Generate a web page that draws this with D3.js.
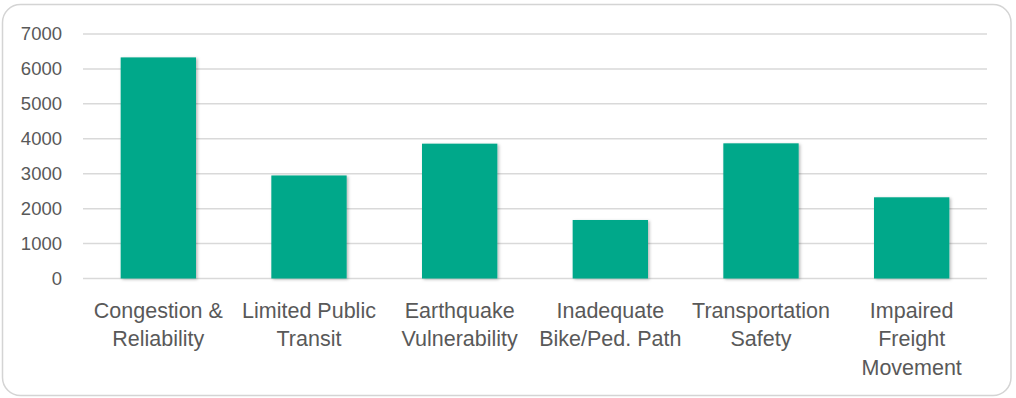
<!DOCTYPE html>
<html>
<head>
<meta charset="utf-8">
<script src="https://cdn.jsdelivr.net/npm/d3@7"></script>
<style>
  html, body { margin: 0; padding: 0; background: #ffffff; }
  svg { display: block; }
</style>
</head>
<body>
<svg id="chart" width="1016" height="398"></svg>
<script>
// Problem categories (each entry is the wrapped label lines)
const categories = [
  ["Congestion &", "Reliability"],
  ["Limited Public", "Transit"],
  ["Earthquake", "Vulnerability"],
  ["Inadequate", "Bike/Ped. Path"],
  ["Transportation", "Safety"],
  ["Impaired", "Freight", "Movement"]
];
const values = [6330, 2950, 3860, 1675, 3870, 2325];
const yTicks = [0, 1000, 2000, 3000, 4000, 5000, 6000, 7000];

const W = 1016, H = 398;
const plot = { left: 83, right: 987, top: 34, bottom: 278.5 };

const svg = d3.select("#chart");
const defs = svg.append("defs");

const barShadow = defs.append("filter").attr("id", "barShadow")
  .attr("x", "-20%").attr("y", "-10%").attr("width", "140%").attr("height", "120%");
barShadow.append("feDropShadow")
  .attr("dx", 1.5).attr("dy", 1).attr("stdDeviation", 1.6)
  .attr("flood-color", "#000").attr("flood-opacity", 0.28);

// chart frame
svg.append("rect")
  .attr("x", 2.5).attr("y", 4.5)
  .attr("width", 1008.5).attr("height", 391)
  .attr("rx", 18).attr("ry", 18)
  .attr("fill", "#ffffff")
  .attr("stroke", "#d4d4d4").attr("stroke-width", 1.5);

const x = d3.scaleBand()
  .domain(d3.range(categories.length))
  .range([plot.left, plot.right])
  .paddingInner(0.5).paddingOuter(0.25);

const y = d3.scaleLinear()
  .domain([0, 7000])
  .range([plot.bottom, plot.top]);

// horizontal gridlines
svg.append("g")
  .selectAll("line")
  .data(yTicks)
  .join("line")
  .attr("x1", plot.left).attr("x2", plot.right)
  .attr("y1", d => y(d)).attr("y2", d => y(d))
  .attr("stroke", "#d9d9d9").attr("stroke-width", 1.5);

// value axis labels
const yAxis = d3.axisLeft(y).tickValues(yTicks).tickSize(0).tickPadding(0)
  .tickFormat(d3.format("d"));
const gy = svg.append("g")
  .attr("transform", `translate(${plot.left - 21},0)`)
  .call(yAxis);
gy.select(".domain").remove();
gy.selectAll("text")
  .attr("fill", "#595959")
  .style("font-family", "'Liberation Sans', Arial, sans-serif")
  .style("font-size", "18.5px");

// bars
svg.append("g")
  .selectAll("rect")
  .data(values)
  .join("rect")
  .attr("x", (d, i) => x(i))
  .attr("width", x.bandwidth())
  .attr("y", d => y(d))
  .attr("height", d => y(0) - y(d))
  .attr("fill", "#02a88a")
  .attr("filter", "url(#barShadow)");

// category labels
const labels = svg.append("g")
  .selectAll("text")
  .data(categories)
  .join("text")
  .attr("text-anchor", "middle")
  .attr("fill", "#595959")
  .style("font-family", "'Liberation Sans', Arial, sans-serif")
  .style("font-size", "21.5px");
labels.each(function(lines, i) {
  d3.select(this).selectAll("tspan")
    .data(lines)
    .join("tspan")
    .attr("x", x(i) + x.bandwidth() / 2)
    .attr("y", (d, j) => 317.5 + j * 28.7)
    .text(d => d);
});
</script>
</body>
</html>
